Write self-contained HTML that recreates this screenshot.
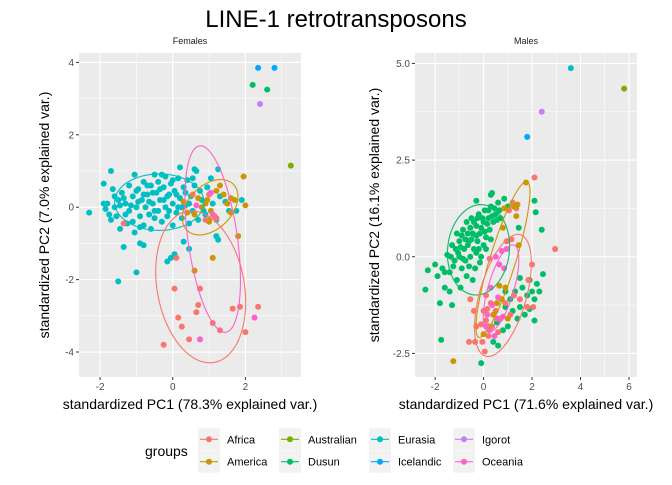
<!DOCTYPE html>
<html><head><meta charset="utf-8"><style>
body{margin:0;background:#fff;font-family:"Liberation Sans",sans-serif}
svg text{font-family:"Liberation Sans",sans-serif}
</style></head><body>
<svg id="c" width="672" height="480" xmlns="http://www.w3.org/2000/svg">
<text x="336" y="27" font-size="24" text-anchor="middle" fill="#000">LINE-1 retrotransposons</text>
</svg>
<script>
const groups=["Africa","America","Australian","Dusun","Eurasia","Icelandic","Igorot","Oceania"];
const colors={Africa:"#F8766D",America:"#CD9600",Australian:"#7CAE00",Dusun:"#00BE67",Eurasia:"#00BFC4",Icelandic:"#00A9FF",Igorot:"#C77CFF",Oceania:"#FF61CC"};
// Females points [x,y]
const fIcelandic=[[2.35,3.85],[2.8,3.85]];
const fDusun=[[2.2,3.38],[2.6,3.25]];
const fIgorot=[[2.4,2.85]];
const fAustralian=[[3.25,1.15]];
const fAfrica=[[-1.35,-0.45],[0.1,-1.4],[0.05,-2.25],[0.15,-3.05],[0.25,-3.3],[-0.25,-3.8],[0.45,-3.65],[0.65,-2.9],[0.7,-2.7],[0.75,-2.25],[1.1,-3.2],[1.3,-3.4],[1.65,-2.8],[1.85,-2.75],[2.0,-3.45],[2.35,-2.75],[0.9,-0.35],[1.15,-0.25],[0.55,0.35],[1.0,0.35],[1.2,-0.3]];
const fOceania=[[0.75,-3.65],[2.25,-3.05],[1.1,-0.2],[0.65,0.05],[1.05,0.4]];
const fAmerica=[[1.95,0.85],[2.0,0.05],[1.8,-0.8],[1.1,-1.4],[0.6,-1.75],[1.6,-0.15],[1.3,0.6],[1.4,0.35],[1.2,0.45],[0.9,0.1],[0.8,0.0],[0.6,-0.2],[0.4,-0.15],[1.0,-0.4],[0.95,0.2],[1.5,0.1],[0.7,0.25],[1.6,0.25],[0.3,0.15],[1.05,-0.1],[1.7,0.2],[1.0,-0.35]];
const fEurasia=[[-2.3,-0.15],[-1.5,-2.05],[-1.0,-1.8],[-1.35,-1.1],[-0.15,-1.5],[0.05,-1.3],[-0.05,-1.4],[0.45,-1.15],[0.3,-0.95],[1.25,-0.9],[1.2,-0.8],[-0.8,-1.05],[-0.9,-1.0],[-1.9,0.65],[-1.7,1.0],[-1.65,0.5],[0.2,1.1],[0.6,1.05],[0.65,1.0],[1.25,1.05],[1.05,0.8],[-1.05,0.9],[1.9,0.2],[1.75,-0.1],
[-1.9,0.1],[-1.8,0.1],[-1.75,-0.2],[-1.7,-0.35],[-1.6,0.0],[-1.5,0.2],[-1.45,-0.6],[-1.4,0.4],[-1.3,0.1],[-1.3,-0.2],[-1.2,0.6],[-1.2,-0.1],[-1.1,0.3],[-1.1,-0.4],[-1.05,-0.7],[-1.0,0.0],[-0.95,0.5],[-0.9,-0.25],[-0.85,0.2],[-0.8,0.7],[-0.8,-0.5],[-0.75,0.0],[-0.7,0.35],[-0.65,-0.2],[-0.6,0.6],[-0.6,-0.6],[-0.55,0.1],[-0.5,0.9],[-0.5,-0.3],[-0.45,0.4],[-0.4,0.7],[-0.4,-0.1],[-0.35,0.2],[-0.3,-0.4],[-0.25,0.55],[-0.2,0.85],[-0.2,0.0],[-0.15,-0.25],[-0.1,0.35],[-0.05,0.65],[0.0,0.1],[0.0,-0.5],[0.05,0.45],[0.1,-0.15],[0.15,0.8],[0.2,0.25],[0.25,-0.3],[0.3,0.55],[0.35,0.05],[0.4,0.75],[0.45,-0.45],[0.5,0.3],[0.55,-0.1],[0.6,0.6],[0.7,-0.35],[0.75,0.45],[0.85,-0.1],[0.95,0.55],[1.1,0.1],[1.2,-0.35],[1.3,0.3],[1.45,0.15],[1.55,-0.1],[-1.45,0.05],[-0.95,0.15],[-0.55,0.4],[-0.15,0.3],[0.15,0.0],
[-1.55,-0.25],[-1.35,0.25],[-1.25,-0.45],[-1.15,0.05],[-1.0,0.45],[-0.9,-0.55],[-0.7,0.6],[-0.65,0.15],[-0.5,-0.1],[-0.35,0.5],[-0.3,0.9],[-0.1,-0.1],[0.0,0.75],[0.1,0.35],[0.25,0.0],[0.35,0.4],[0.45,0.1],[0.55,0.8],[0.8,0.2],[0.9,-0.2],[-0.25,0.2],[-0.8,0.35],[-1.6,0.3],[-1.85,-0.05]];
// Males points
const mEurasia=[[3.6,4.88]];
const mAustralian=[[5.8,4.35]];
const mIgorot=[[2.4,3.75]];
const mIcelandic=[[1.8,3.1]];
const mAmerica=[[1.75,1.92],[1.4,1.35],[1.35,1.05],[0.85,1.25],[1.25,1.3],[0.8,0.75],[1.45,0.3],[0.65,-0.75],[0.9,-0.8],[-1.25,-2.7],[0.75,-1.1],[0.4,-1.5],[0.55,-1.2],[0.0,-2.0],[0.2,-1.8],[1.0,-1.6]];
const mDusun=[[-2.4,-0.85],[-2.3,-0.35],[-1.75,-2.15],[-1.3,-1.25],[-0.1,-2.75],[2.1,-1.65],[2.4,0.7],[2.15,1.15],[2.1,1.45],[0.3,1.6],[0.35,1.65],[-0.3,1.45],[1.45,0.75],[2.45,-0.45],[-1.9,-0.5],[-2.0,-0.2],[-1.6,-0.8],[-1.5,0.05],[-1.4,-0.4],[-1.3,0.3],[-1.2,-0.1],[-1.1,-0.6],[-1.0,0.4],[-1.0,0.0],[-0.9,-0.3],[-0.85,0.7],[-0.8,0.2],[-0.7,-0.5],[-0.7,0.9],[-0.6,0.4],[-0.55,0.0],[-0.5,1.0],[-0.45,0.6],[-0.4,0.2],[-0.35,-0.3],[-0.3,0.8],[-0.25,0.4],[-0.2,1.1],[-0.15,0.6],[-0.1,0.0],[0.0,0.9],[0.05,1.2],[0.1,0.5],[0.2,1.0],[0.25,0.7],[0.3,1.3],[0.4,0.9],[0.5,1.1],[0.6,1.4],[0.7,1.0],[0.85,1.5],[1.0,1.3],[-1.6,-0.4],[-1.15,0.2],[-0.95,-0.8],[-0.75,-0.1],[-0.65,0.6],[-0.45,-0.6],[-0.2,0.2],[0.0,0.3],[-1.8,-1.2],[-1.4,-0.9],
[-1.25,-0.25],[-1.05,0.1],[-0.95,0.25],[-0.85,-0.05],[-0.75,0.45],[-0.65,0.3],[-0.55,0.75],[-0.5,0.45],[-0.4,0.9],[-0.3,0.55],[-0.25,1.0],[-0.1,0.75],[-0.05,1.0],[0.05,0.65],[0.15,0.85],[0.2,1.2],[0.35,1.05],[0.45,1.25],[0.55,0.95],[0.65,1.2],[-1.1,0.6],[-0.9,0.55],[-1.35,0.0],[-0.6,-0.25],[-0.3,0.1],[0.1,0.2],[0.3,0.45],[-1.7,-0.3],[-0.15,-0.15],
[0.9,-0.9],[1.1,-1.1],[1.3,-0.9],[1.5,-1.3],[1.6,-0.8],[1.8,-1.0],[1.9,-0.6],[2.0,-0.9],[2.2,-0.7],[2.1,-1.1],[1.7,-1.5],[1.4,-1.6],[1.2,-1.4],[1.0,-1.8],[0.8,-1.9],[0.6,-2.3],[0.4,-2.2],[0.9,-1.3],[1.5,-0.55],[2.3,-0.9],[1.9,-1.35],[0.55,-1.7]];
const mAfrica=[[2.1,2.05],[2.95,0.2],[1.05,1.2],[1.35,1.25],[1.2,1.4],[2.0,-0.2],[1.15,0.45],[0.95,0.4],[1.85,-0.6],[2.05,-1.3],[1.8,-1.3],[-0.55,-1.1],[-0.4,-1.4],[-0.6,-2.2],[-0.35,-2.2],[-0.05,-2.2],[0.05,-2.45],[0.1,-1.0],[0.3,-1.2],[0.5,-1.4],[0.1,-1.65],[-0.1,-1.75],[0.7,-1.6],[0.9,-1.2],[1.25,-1.0],[0.35,-1.8],[0.2,-2.05],[0.6,-1.95],[1.1,-1.5],[1.5,-1.1],[0.0,-1.4],[-0.3,-1.8],[0.15,-1.35]];
const mOceania=[[0.95,0.2],[0.75,0.15],[0.5,0.0],[0.25,-0.05],[0.65,-0.2],[0.85,-0.3],[0.3,-0.8],[0.15,-1.5],[0.35,-1.25],[0.55,-1.6],[0.25,-1.9],[0.45,-2.05],[0.1,-1.8],[0.8,-1.55],[0.6,-1.05]];
// ellipses: [group, cx, cy, a, b, angleDeg] in data units
const fEllipses=[["Eurasia",-0.37,0.14,1.23,0.78,0],["America",1.03,0.0,0.9,0.6,45],["Oceania",1.1,-0.88,2.6,0.68,98],["Africa",0.77,-2.2,2.12,1.2,100]];
const mEllipses=[["Dusun",-0.21,0.18,1.3,1.15,20],["America",0.8,-0.07,2.25,0.5,63],["Africa",0.8,-1.0,1.75,0.9,60],["Oceania",0.72,-0.82,1.25,0.5,62]];
const fXTicks=[-2,0,2], fYTicks=[-4,-2,0,2,4];
const mXTicks=[-2,0,2,4,6], mYTicks=[-2.5,0,2.5,5];
const mYTickLabels=["-2.5","0.0","2.5","5.0"];

const NS="http://www.w3.org/2000/svg", svg=document.getElementById("c");
function el(t,a,p){const e=document.createElementNS(NS,t);for(const k in a)e.setAttribute(k,a[k]);(p||svg).appendChild(e);return e;}

function panel(o){
  const {px0,px1,py0,py1,x0,x1,y0,y1}=o;
  const sx=v=>px0+(v-x0)/(x1-x0)*(px1-px0);
  const sy=v=>py1-(v-y0)/(y1-y0)*(py1-py0);
  const g=el("g",{});
  
  
  const bg=el("rect",{x:px0,y:py0,width:px1-px0,height:py1-py0,fill:"#EBEBEB"},g);
  
  
  const dx=o.xt[1]-o.xt[0], dy=o.yt[1]-o.yt[0];
  for(let v=o.xt[0]-dx/2;v<=x1;v+=dx){ if(v>=x0) el("line",{x1:sx(v),x2:sx(v),y1:py0,y2:py1,stroke:"#fff","stroke-width":0.5},g);}
  for(let v=o.yt[0]-dy/2;v<=y1;v+=dy){ if(v>=y0) el("line",{y1:sy(v),y2:sy(v),x1:px0,x2:px1,stroke:"#fff","stroke-width":0.5},g);}
  o.xt.forEach(v=>{el("line",{x1:sx(v),x2:sx(v),y1:py0,y2:py1,stroke:"#fff","stroke-width":1.1},g);
    el("line",{x1:sx(v),x2:sx(v),y1:py1,y2:py1+3,stroke:"#333"},g);
    const t=el("text",{x:sx(v),y:py1+13,"font-size":10,fill:"#4D4D4D","text-anchor":"middle"},g);t.textContent=v;
    });
  o.yt.forEach((v,i)=>{el("line",{y1:sy(v),y2:sy(v),x1:px0,x2:px1,stroke:"#fff","stroke-width":1.1},g);
    el("line",{y1:sy(v),y2:sy(v),x1:px0-3,x2:px0,stroke:"#333"},g);
    const t=el("text",{x:px0-5,y:sy(v)+3.5,"font-size":10,fill:"#4D4D4D","text-anchor":"end"},g);t.textContent=o.ytl?o.ytl[i]:v;
    });
  const st=el("text",{x:(px0+px1)/2,y:py0-9,"font-size":9,fill:"#1A1A1A","text-anchor":"middle"},g);st.textContent=o.title;
  
  const xl=el("text",{x:(px0+px1)/2,y:py1+32,"font-size":14,fill:"#000","text-anchor":"middle"},g);xl.textContent=o.xlab;
  
  const yx=px0-o.ylOff, yc=(py0+py1)/2;
  const yl=el("text",{x:yx,y:yc,"font-size":14,fill:"#000","text-anchor":"middle",transform:`rotate(-90 ${yx} ${yc})`},g);yl.textContent=o.ylab;
  
  o.pts.forEach(([grp,arr])=>arr.forEach(([x,y])=>{
    const c=el("circle",{cx:sx(x),cy:sy(y),r:3,fill:colors[grp]},g);
    
    
  }));
  o.ell.forEach(([grp,cx,cy,a,b,ang])=>{
    const r=ang*Math.PI/180;let d="";
    for(let i=0;i<=100;i++){const t=i/100*2*Math.PI;const u=a*Math.cos(t),w=b*Math.sin(t);
      const X=cx+u*Math.cos(r)-w*Math.sin(r), Y=cy+u*Math.sin(r)+w*Math.cos(r);
      d+=(i?"L":"M")+sx(X).toFixed(1)+","+sy(Y).toFixed(1);}
    const p=el("path",{d:d,fill:"none",stroke:colors[grp],"stroke-width":1.1},g);
    
    
  });
}
panel({name:"females",title:"Females",px0:79,px1:301,py0:53,py1:377,x0:-2.58,x1:3.53,y0:-4.69,y1:4.26,xt:fXTicks,yt:fYTicks,
  xlab:"standardized PC1 (78.3% explained var.)",ylab:"standardized PC2 (7.0% explained var.)",ylOff:30,
  pts:[["Eurasia",fEurasia],["America",fAmerica],["Africa",fAfrica],["Oceania",fOceania],["Icelandic",fIcelandic],["Dusun",fDusun],["Igorot",fIgorot],["Australian",fAustralian]],ell:fEllipses});
panel({name:"males",title:"Males",px0:415,px1:637,py0:53,py1:377,x0:-2.83,x1:6.33,y0:-3.11,y1:5.27,xt:mXTicks,yt:mYTicks,ytl:mYTickLabels,
  xlab:"standardized PC1 (71.6% explained var.)",ylab:"standardized PC2 (16.1% explained var.)",ylOff:36,
  pts:[["Dusun",mDusun],["Africa",mAfrica],["America",mAmerica],["Oceania",mOceania],["Eurasia",mEurasia],["Australian",mAustralian],["Igorot",mIgorot],["Icelandic",mIcelandic]],ell:mEllipses});
// legend
const lg=el("g",{});


const gt=el("text",{x:145,y:456,"font-size":14,fill:"#000"},lg);gt.textContent="groups";

const colX=[198,279,369,453];
groups.forEach((grp,i)=>{
  const cx=colX[Math.floor(i/2)], cy=i%2?461.7:439.3;
  const e=el("g",{},lg);
  
  
  el("rect",{x:cx,y:cy-11,width:22,height:22,fill:"#F2F2F2"},e);
  el("line",{x1:cx+2,x2:cx+20,y1:cy,y2:cy,stroke:colors[grp],"stroke-width":1.1},e);
  el("circle",{cx:cx+11,cy:cy,r:3,fill:colors[grp]},e);
  const t=el("text",{x:cx+29,y:cy+4,"font-size":11,fill:"#000"},e);t.textContent=grp;
});
</script>
</body></html>
